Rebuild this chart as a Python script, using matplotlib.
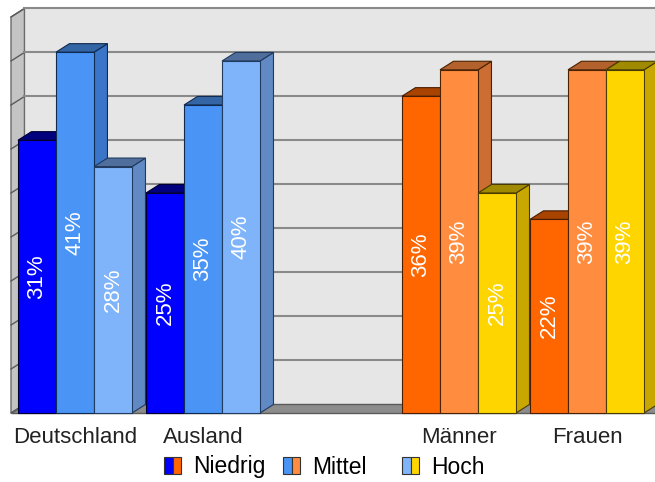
import matplotlib
matplotlib.use("Agg")
import matplotlib.pyplot as plt
from matplotlib.patches import Polygon, Patch
from matplotlib.legend_handler import HandlerTuple

plt.rcParams['font.family'] = ['Liberation Sans', 'DejaVu Sans']

# data
categories = ["Deutschland", "Ausland", "Männer", "Frauen"]
slots = [0, 1, 3, 4]          # one empty slot between the two blocks
levels = ["Niedrig", "Mittel", "Hoch"]
niedrig = [31, 25, 36, 22]
mittel = [41, 35, 39, 39]
hoch = [28, 40, 25, 39]
scheme = ["blue", "blue", "orange", "orange"]

# colours per scheme and level: front, top, side, edge
colors = {
    "blue": [("#0000FF", "#00007E", "#0000A8", "#000033"),
             ("#4A94F5", "#3465A4", "#3A75C9", "#102a50"),
             ("#80B4FA", "#4F6E9B", "#6189C4", "#203a60")],
    "orange": [("#FF6600", "#A84400", "#B34800", "#4a1c00"),
               ("#FF8C3F", "#B3622E", "#CC6E33", "#4a2200"),
               ("#FFD500", "#A08A00", "#C8A800", "#4a3c00")],
}

ymax = 45
step = 5
bw = 0.297      # bar width
dx = 0.105      # depth offset x
dy = 0.97       # depth offset y
xl = -0.5       # left wall front x
x0, x1 = -0.586, 4.531
y0, y1 = -7.84, 46.93

fig = plt.figure(figsize=(6.55, 4.82), dpi=100)
ax = fig.add_axes([0, 0, 1, 1])
ax.set_xlim(x0, x1)
ax.set_ylim(y0, y1)
ax.axis("off")

xr = x1 + 1
grid_c = "#8a8a8a"
# back wall
ax.add_patch(Polygon([(xl + dx, dy), (xr, dy), (xr, ymax + dy), (xl + dx, ymax + dy)],
                     closed=True, facecolor="#E6E6E6", edgecolor="none", zorder=1))
# floor
ax.add_patch(Polygon([(xl, 0), (xr, 0), (xr, dy), (xl + dx, dy)],
                     closed=True, facecolor="#8C8C8C", edgecolor="#5a5a5a", lw=1, zorder=1))
# left wall
ax.add_patch(Polygon([(xl, 0), (xl + dx, dy), (xl + dx, ymax + dy), (xl, ymax)],
                     closed=True, facecolor="#C4C4C4", edgecolor="#6a6a6a", lw=1, zorder=1))
for v in range(0, ymax + 1, step):
    ax.plot([xl, xl + dx], [v, v + dy], color="#5a5a5a", lw=1, zorder=2)
    if v > 0:
        ax.plot([xl + dx, xr], [v + dy, v + dy], color=grid_c, lw=1.5, zorder=2)

series = [niedrig, mittel, hoch]
for gi, s in enumerate(slots):
    left0 = s - 1.5 * bw
    for li in range(3):
        v = series[li][gi]
        front, top, side, edge = colors[scheme[gi]][li]
        xa = left0 + li * bw
        xb = xa + bw
        ax.add_patch(Polygon([(xb, 0), (xb + dx, dy), (xb + dx, v + dy), (xb, v)],
                             closed=True, facecolor=side, edgecolor=edge, lw=0.8, zorder=3))
        ax.add_patch(Polygon([(xa, v), (xb, v), (xb + dx, v + dy), (xa + dx, v + dy)],
                             closed=True, facecolor=top, edgecolor=edge, lw=0.8, zorder=3))
        ax.add_patch(Polygon([(xa, 0), (xb, 0), (xb, v), (xa, v)],
                             closed=True, facecolor=front, edgecolor=edge, lw=0.8, zorder=3))
        ax.text((xa + xb) / 2, v / 2, f"{v}%", rotation=90, ha="center", va="center",
                color="white", fontsize=16, zorder=4)
    ax.text(s, -2.8, categories[gi], ha="center", va="center", fontsize=16, color="#222222")

# legend: split icons (blue half | orange half)
leg_x = [164, 283, 402]
for li, name in enumerate(levels):
    h = (Patch(facecolor=colors["blue"][li][0], edgecolor="#333333", lw=0.8),
         Patch(facecolor=colors["orange"][li][0], edgecolor="#333333", lw=0.8))
    leg = fig.legend([h], [name], handler_map={tuple: HandlerTuple(ndivide=None, pad=0)},
                     loc="center left", bbox_to_anchor=(leg_x[li] / 655, 1 - 467 / 482),
                     frameon=False, borderpad=0, borderaxespad=0, fontsize=16.5,
                     handlelength=0.75, handleheight=0.72, handletextpad=0.5)

fig.savefig("out.png", dpi=100)
